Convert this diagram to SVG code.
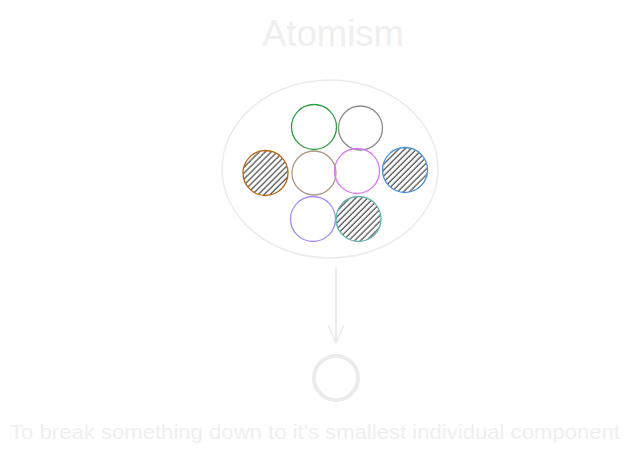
<svg xmlns="http://www.w3.org/2000/svg" width="630" height="454" viewBox="0 0 630 454">
<style>
.atom{stroke-width:1.3;}
.faint{fill:none;stroke:#ebebeb;}
.txt{font-family:"Liberation Sans",Arial,sans-serif;fill:#efefef;}
</style>
<defs>
<pattern id="hatch" patternUnits="userSpaceOnUse" width="4.2" height="4.2" patternTransform="rotate(45)">
<line x1="1" y1="0" x2="1" y2="4.2" stroke="#555" stroke-width="1.3"/>
</pattern>
<marker id="arrow" viewBox="0 0 20 20" refX="18" refY="10" markerWidth="20" markerHeight="20" markerUnits="userSpaceOnUse" orient="auto">
<path d="M0 2 L18 10 L0 18" fill="none" stroke="#ebebeb" stroke-width="1.5"/>
</marker>
</defs>
<rect width="630" height="454" fill="#ffffff"/>
<g id="title"><text class="txt" x="333" y="46" font-size="36" text-anchor="middle" textLength="142" lengthAdjust="spacingAndGlyphs">Atomism</text></g>
<g id="group-ellipse"><ellipse class="faint" cx="330" cy="169" rx="108" ry="89" stroke-width="1.5"/></g>
<g id="atom-green"><circle class="atom" cx="314" cy="127" r="22.5" fill="none" stroke="#2f9e44"/></g>
<g id="atom-gray"><circle class="atom" cx="360.5" cy="128" r="22" fill="none" stroke="#8c8c8c"/></g>
<g id="atom-orange"><circle class="atom" cx="265.5" cy="173" r="22.5" fill="url(#hatch)" stroke="#b8650c"/></g>
<g id="atom-tan"><circle class="atom" cx="314" cy="173" r="22" fill="none" stroke="#ab9a86"/></g>
<g id="atom-pink"><circle class="atom" cx="357" cy="171" r="22.5" fill="none" stroke="#da77f2"/></g>
<g id="atom-blue"><circle class="atom" cx="405" cy="170" r="22.5" fill="url(#hatch)" stroke="#4a90d9"/></g>
<g id="atom-purple"><circle class="atom" cx="313" cy="219" r="22.5" fill="none" stroke="#a58cf5"/></g>
<g id="atom-teal"><circle class="atom" cx="358.5" cy="219" r="22.5" fill="url(#hatch)" stroke="#63b3a8"/></g>
<g id="connectors"><line x1="336" y1="268" x2="336" y2="343" stroke="#ebebeb" stroke-width="2" marker-end="url(#arrow)"/></g>
<g id="atom-single"><circle cx="336" cy="378" r="22" fill="none" stroke="#ebebeb" stroke-width="4"/></g>
<g id="caption"><text class="txt" x="10" y="439" font-size="20" textLength="610" lengthAdjust="spacingAndGlyphs">To break something down to it's smallest individual component</text></g>
</svg>
